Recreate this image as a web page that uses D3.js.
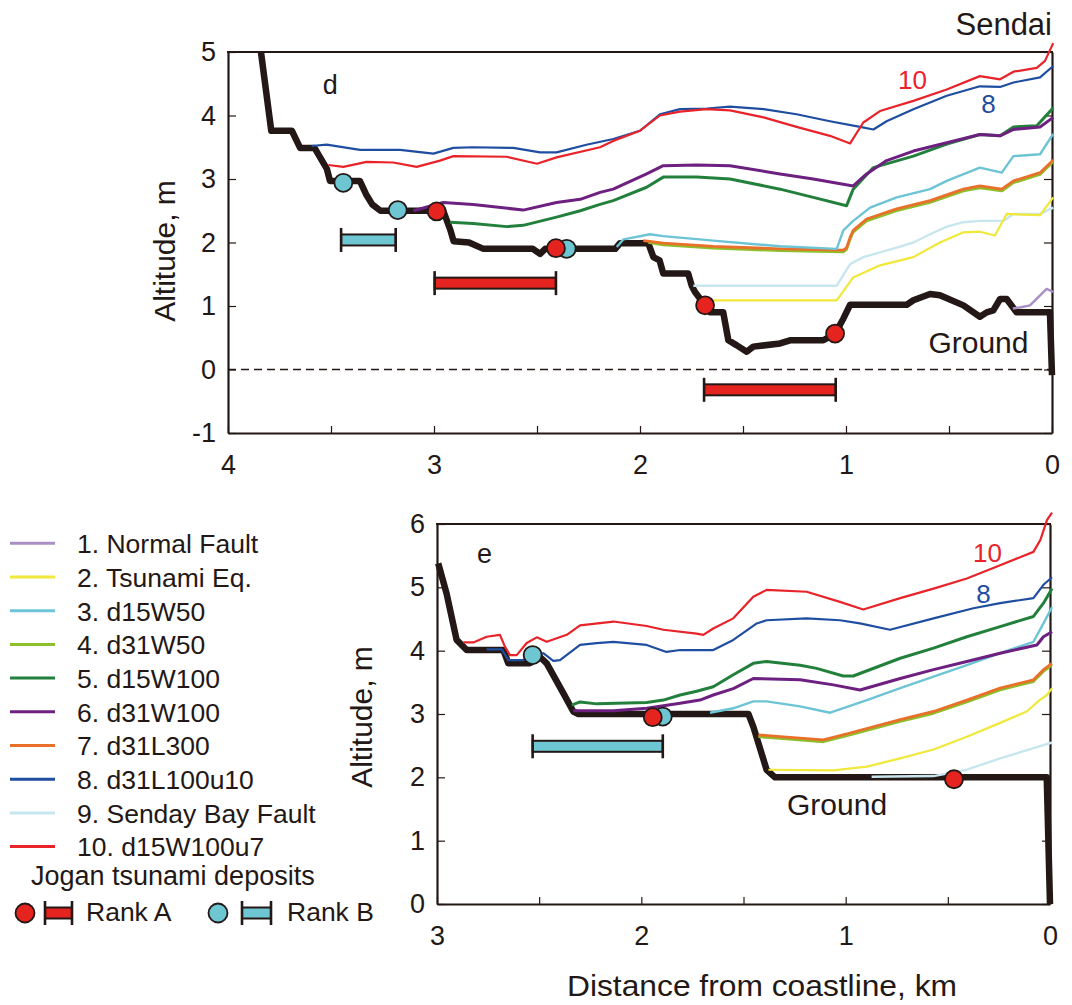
<!DOCTYPE html>
<html><head><meta charset="utf-8">
<script src="https://cdn.jsdelivr.net/npm/d3@7"></script>
<style>
body{margin:0;background:#fff;}
text{font-family:"Liberation Sans",Arial,Helvetica,sans-serif;}
</style></head><body>
<svg id="chart" width="1072" height="1005"></svg>
<script>
// ---------- legend / series meta ----------
const seriesNames = ["1. Normal Fault","2. Tsunami Eq.","3. d15W50","4. d31W50","5. d15W100","6. d31W100","7. d31L300","8. d31L100u10","9. Senday Bay Fault","10. d15W100u7"];
const seriesColors = ["#a98fc6","#f0e83a","#6cc4d4","#8cbf2a","#23803c","#6d2080","#e8702a","#1f4ea0","#c8e6ee","#e8232a"];
const seriesWidths = [2.4,2.2,2.4,2.6,3,3,2.8,2.2,2.4,2.2];

// ---------- panel d: ground & series (x = km from coast, y = altitude m) ----------
const dGround = [[3.84,5.0],[3.79,3.76],[3.69,3.76],[3.65,3.49],[3.58,3.49],[3.52,3.16],[3.505,2.97],[3.36,2.97],[3.33,2.76],[3.30,2.6],[3.26,2.5],[2.955,2.5],[2.92,2.19],[2.905,2.02],[2.83,2.0],[2.76,1.9],[2.52,1.9],[2.485,1.82],[2.46,1.9],[2.12,1.9],[2.097,1.99],[1.96,1.99],[1.935,1.77],[1.905,1.72],[1.887,1.51],[1.766,1.51],[1.749,1.32],[1.733,1.22],[1.684,1.01],[1.66,0.9],[1.596,0.9],[1.571,0.46],[1.53,0.38],[1.482,0.28],[1.45,0.36],[1.32,0.41],[1.272,0.46],[1.11,0.46],[1.053,0.565],[1.013,0.8],[0.98,1.02],[0.705,1.02],[0.673,1.09],[0.592,1.19],[0.544,1.17],[0.43,1.01],[0.35,0.83],[0.317,0.9],[0.285,0.93],[0.252,1.11],[0.22,1.11],[0.172,0.9],[0.01,0.9],[0.0,-0.09]];
const d1 = [[0.19,0.96],[0.15,0.98],[0.107,1.01],[0.026,1.27],[-0.006,1.22]];
const d2 = [[1.644,1.09],[1.045,1.09],[0.965,1.45],[0.835,1.64],[0.673,1.77],[0.544,2.0],[0.43,2.16],[0.35,2.17],[0.277,2.11],[0.22,2.45],[0.058,2.43],[-0.006,2.71]];
const d3s = [[2.113,1.93],[2.08,2.05],[1.951,2.13],[1.887,2.1],[1.644,2.03],[1.32,1.94],[1.045,1.9],[1.013,2.19],[0.965,2.34],[0.883,2.55],[0.754,2.71],[0.592,2.84],[0.511,2.97],[0.35,3.18],[0.244,3.1],[0.187,3.36],[0.058,3.39],[-0.006,3.71]];
const d4 = [[1.96,2.0],[1.887,1.96],[1.644,1.91],[1.32,1.87],[1.013,1.85],[0.997,1.89],[0.98,2.05],[0.965,2.16],[0.9,2.34],[0.754,2.5],[0.592,2.63],[0.43,2.81],[0.35,2.86],[0.244,2.81],[0.187,2.94],[0.058,3.07],[-0.006,3.27]];
const d5 = [[2.922,2.32],[2.81,2.3],[2.647,2.25],[2.567,2.27],[2.405,2.4],[2.29,2.5],[2.194,2.6],[2.13,2.66],[1.968,2.87],[1.887,3.03],[1.725,3.03],[1.563,3.0],[1.32,2.84],[1.159,2.71],[0.997,2.58],[0.965,2.84],[0.867,3.18],[0.673,3.36],[0.511,3.55],[0.35,3.7],[0.252,3.68],[0.187,3.82],[0.074,3.84],[-0.006,4.12]];
const d6 = [[3.1,2.5],[2.955,2.63],[2.81,2.6],[2.567,2.51],[2.405,2.63],[2.29,2.68],[2.194,2.79],[2.13,2.84],[1.968,3.08],[1.887,3.21],[1.725,3.22],[1.563,3.21],[1.32,3.08],[1.159,3.0],[0.965,2.89],[0.9,3.08],[0.803,3.29],[0.673,3.44],[0.511,3.57],[0.35,3.7],[0.252,3.68],[0.187,3.78],[0.058,3.82],[-0.006,3.97]];
const d7 = [[1.984,2.03],[1.887,1.99],[1.644,1.94],[1.32,1.9],[1.013,1.88],[0.997,1.92],[0.98,2.08],[0.965,2.19],[0.9,2.37],[0.754,2.53],[0.592,2.66],[0.43,2.84],[0.35,2.89],[0.244,2.84],[0.187,2.97],[0.058,3.1],[-0.006,3.3]];
const d8 = [[3.594,3.52],[3.521,3.54],[3.359,3.46],[3.165,3.46],[3.003,3.40],[2.906,3.49],[2.81,3.5],[2.615,3.49],[2.485,3.42],[2.405,3.42],[2.26,3.54],[2.13,3.63],[2.0,3.76],[1.903,4.02],[1.806,4.1],[1.676,4.11],[1.563,4.14],[1.4,4.1],[1.24,4.02],[1.078,3.91],[0.932,3.82],[0.867,3.78],[0.803,3.91],[0.673,4.1],[0.511,4.31],[0.35,4.46],[0.252,4.45],[0.187,4.52],[0.058,4.6],[-0.006,4.78]];
const d9 = [[1.741,1.32],[1.045,1.32],[0.98,1.66],[0.916,1.77],[0.754,1.92],[0.673,2.0],[0.592,2.13],[0.511,2.25],[0.43,2.32],[0.35,2.34],[0.236,2.34],[0.187,2.45],[0.058,2.45],[-0.006,2.55]];
const d10 = [[3.513,3.22],[3.44,3.19],[3.327,3.27],[3.198,3.26],[3.084,3.19],[2.971,3.29],[2.906,3.36],[2.647,3.35],[2.5,3.24],[2.405,3.34],[2.194,3.5],[2.13,3.6],[2.0,3.76],[1.903,4.0],[1.806,4.06],[1.676,4.1],[1.563,4.08],[1.4,3.97],[1.24,3.82],[1.078,3.68],[0.98,3.56],[0.916,3.89],[0.835,4.07],[0.673,4.23],[0.511,4.41],[0.35,4.62],[0.252,4.57],[0.187,4.69],[0.074,4.75],[0.034,4.86],[-0.006,5.14]];
const dRankA = [[2.987,2.49],[2.408,1.91],[1.684,1.01],[1.053,0.565]];
const dRankB = [[3.44,2.94],[3.176,2.51],[2.356,1.9]];
const dBarA = [[2.997,2.408,1.36],[1.689,1.05,-0.32]];   // [from, to, altitude]
const dBarB = [[3.451,3.186,2.04]];

// ---------- panel e ----------
const eGround = [[2.994,5.38],[2.953,4.9],[2.904,4.17],[2.855,4.01],[2.675,4.01],[2.651,3.8],[2.546,3.8],[2.496,3.9],[2.463,3.8],[2.382,3.33],[2.333,3.04],[2.308,3.0],[1.476,3.0],[1.452,2.8],[1.387,2.12],[1.346,2.0],[0.016,2.0],[0.0,0.0]];
const e2 = [[1.378,2.12],[1.06,2.11],[0.896,2.17],[0.733,2.3],[0.57,2.44],[0.407,2.64],[0.244,2.86],[0.114,3.04],[0.051,3.22],[0.015,3.3],[-0.01,3.41]];
const e3 = [[1.664,3.02],[1.55,3.09],[1.452,3.2],[1.387,3.2],[1.223,3.12],[1.076,3.02],[0.896,3.22],[0.733,3.41],[0.57,3.59],[0.407,3.77],[0.244,3.96],[0.081,4.14],[0.032,4.43],[-0.01,4.69]];
const e4 = [[1.427,2.64],[1.305,2.61],[1.109,2.56],[0.979,2.67],[0.733,2.88],[0.57,3.01],[0.407,3.19],[0.244,3.38],[0.081,3.51],[0.032,3.67],[-0.01,3.77]];
const e5 = [[2.341,3.14],[2.3,3.19],[2.218,3.16],[1.974,3.18],[1.892,3.22],[1.81,3.3],[1.729,3.36],[1.648,3.43],[1.55,3.62],[1.452,3.8],[1.387,3.83],[1.223,3.77],[1.142,3.72],[1.012,3.6],[0.963,3.6],[0.733,3.88],[0.57,4.04],[0.407,4.22],[0.244,4.38],[0.081,4.54],[0.032,4.75],[-0.01,4.98]];
const e6 = [[2.333,3.05],[2.137,3.05],[1.974,3.09],[1.81,3.17],[1.713,3.22],[1.648,3.3],[1.55,3.4],[1.452,3.56],[1.223,3.54],[1.06,3.46],[0.93,3.38],[0.733,3.56],[0.57,3.7],[0.407,3.83],[0.244,3.96],[0.064,4.09],[0.032,4.22],[-0.01,4.3]];
const e7 = [[1.427,2.67],[1.305,2.64],[1.109,2.59],[0.979,2.7],[0.733,2.91],[0.57,3.04],[0.407,3.22],[0.244,3.41],[0.081,3.54],[0.032,3.7],[-0.01,3.8]];
const e8 = [[2.757,4.02],[2.683,4.02],[2.651,3.85],[2.578,3.85],[2.53,3.9],[2.48,3.96],[2.431,3.84],[2.398,3.85],[2.3,4.09],[2.218,4.12],[2.137,4.14],[1.974,4.09],[1.877,3.98],[1.81,4.01],[1.648,4.01],[1.55,4.17],[1.435,4.43],[1.387,4.48],[1.191,4.51],[1.028,4.48],[0.93,4.43],[0.783,4.33],[0.57,4.51],[0.375,4.67],[0.244,4.75],[0.081,4.83],[0.032,5.04],[-0.01,5.16]];
const e9 = [[0.873,2.01],[0.57,2.02],[0.407,2.12],[0.244,2.3],[0.081,2.46],[-0.01,2.55]];
const e10 = [[2.871,4.13],[2.822,4.13],[2.757,4.22],[2.692,4.25],[2.667,4.06],[2.643,3.93],[2.61,3.93],[2.561,4.12],[2.512,4.21],[2.463,4.14],[2.365,4.25],[2.3,4.4],[2.137,4.46],[1.974,4.39],[1.892,4.33],[1.729,4.27],[1.697,4.25],[1.648,4.35],[1.55,4.51],[1.452,4.85],[1.387,4.96],[1.191,4.93],[1.028,4.77],[0.914,4.65],[0.733,4.83],[0.57,4.98],[0.407,5.14],[0.244,5.35],[0.081,5.56],[0.047,5.75],[0.015,6.06],[-0.01,6.18]];
const eRankA = [[1.944,2.95],[0.47,1.97]];
const eRankB = [[2.532,3.93],[1.895,2.96]];
const eBarA = [];
const eBarB = [[2.532,1.895,2.49]];

// tick values
const dYTicks = [-1,0,1,2,3,4,5];
const dXTicks = [4,3.5,3,2.5,2,1.5,1,0.5,0];
const eYTicks = [0,1,2,3,4,5,6];
const eXTicks = [3,2.5,2,1.5,1,0.5,0];

const INK = "#231815", RED = "#e5231f", CYAN = "#6ec6d3";
const svg = d3.select("#chart");

function panel(cfg){
  const x = d3.scaleLinear().domain(cfg.xDomain).range(cfg.xRange);
  const y = d3.scaleLinear().domain(cfg.yDomain).range(cfg.yRange);
  const g = svg.append("g");
  const [x0,x1] = cfg.xRange, [y0,y1] = cfg.yRange;

  const ax = d3.axisBottom(x).tickValues(cfg.xTicks).tickSize(-7).tickSizeOuter(0).tickPadding(22)
     .tickFormat(d => Number.isInteger(d) ? d3.format("d")(d) : "");
  const gx = g.append("g").attr("transform",`translate(0,${y0})`).call(ax);
  const ay = d3.axisLeft(y).tickValues(cfg.yTicks).tickSize(-8).tickSizeOuter(0).tickPadding(12).tickFormat(d3.format("d"));
  const gy = g.append("g").attr("transform",`translate(${x0},0)`).call(ay);
  const ar = d3.axisRight(y).tickValues(cfg.yTicks).tickSize(-8).tickSizeOuter(0).tickFormat("");
  const gr = g.append("g").attr("transform",`translate(${x1},0)`).call(ar);
  [gx,gy,gr].forEach(a=>{
    a.select(".domain").attr("stroke",INK).attr("stroke-width",2.2);
    a.selectAll(".tick line").attr("stroke",INK).attr("stroke-width",1.2);
    a.selectAll(".tick text").attr("font-size",27).style("fill",INK)
      .attr("font-family",'"Liberation Sans",Arial,sans-serif');
  });
  gy.selectAll(".tick text").text(d => d<0 ? "-"+Math.abs(d) : d);
  g.append("line").attr("x1",x0-1).attr("x2",x1+1).attr("y1",y1).attr("y2",y1).attr("stroke",INK).attr("stroke-width",2);

  if (cfg.zeroLine){
    g.append("line").attr("x1",x0).attr("x2",x1).attr("y1",y(0)).attr("y2",y(0))
      .attr("stroke",INK).attr("stroke-width",1.3).attr("stroke-dasharray","8,5");
  }

  const line = d3.line().x(d=>x(d[0])).y(d=>y(d[1]));
  g.append("path").datum(cfg.ground).attr("d",line).attr("fill","none")
    .attr("stroke",INK).attr("stroke-width",6.5).attr("stroke-linejoin","round").attr("stroke-linecap","butt");

  cfg.series.forEach(([i,data])=>{
    g.append("path").datum(data).attr("d",line).attr("fill","none")
      .attr("stroke",seriesColors[i]).attr("stroke-width",seriesWidths[i]).attr("stroke-linejoin","round");
  });

  function bars(list,color){
    list.forEach(([a,b,h])=>{
      const xa = x(a), xb = x(b), yy = y(h);
      g.append("rect").attr("x",Math.min(xa,xb)).attr("y",yy-5.5).attr("width",Math.abs(xb-xa)).attr("height",11)
        .attr("fill",color).attr("stroke",INK).attr("stroke-width",2);
      [xa,xb].forEach(xx=>g.append("line").attr("x1",xx).attr("x2",xx).attr("y1",yy-12).attr("y2",yy+12)
        .attr("stroke",INK).attr("stroke-width",2.6));
    });
  }
  bars(cfg.barB,CYAN); bars(cfg.barA,RED);

  function dots(list,color){
    g.selectAll(null).data(list).enter().append("circle")
      .attr("cx",d=>x(d[0])).attr("cy",d=>y(d[1])).attr("r",9)
      .attr("fill",color).attr("stroke",INK).attr("stroke-width",1.8);
  }
  dots(cfg.rankB,CYAN); dots(cfg.rankA,RED);

  cfg.labels.forEach(l=>{
    g.append("text").attr("x",x(l.x)).attr("y",y(l.y)).attr("text-anchor",l.anchor||"start")
      .attr("font-size",l.size).style("fill",l.color||INK).text(l.t);
  });
  return {x,y};
}

panel({
  xDomain:[4,0], xRange:[228,1052], yDomain:[-1,5], yRange:[433,52],
  xTicks:dXTicks, yTicks:dYTicks, zeroLine:true, ground:dGround,
  series:[[8,d9],[1,d2],[0,d1],[3,d4],[6,d7],[2,d3s],[4,d5],[5,d6],[7,d8],[9,d10]],
  rankA:dRankA, rankB:dRankB, barA:dBarA, barB:dBarB,
  labels:[
    {t:"d",x:3.54,y:4.34,size:27},
    {t:"Sendai",x:0,y:5.26,size:31,anchor:"end"},
    {t:"10",x:0.677,y:4.42,size:26,anchor:"middle",color:"#e8232a"},
    {t:"8",x:0.308,y:4.04,size:26,anchor:"middle",color:"#1f4ea0"},
    {t:"Ground",x:0.6,y:0.26,size:30}
  ]
});

panel({
  xDomain:[3,0], xRange:[437,1050], yDomain:[0,6], yRange:[904,524],
  xTicks:eXTicks, yTicks:eYTicks, zeroLine:false, ground:eGround,
  series:[[8,e9],[1,e2],[3,e4],[6,e7],[2,e3],[4,e5],[5,e6],[7,e8],[9,e10]],
  rankA:eRankA, rankB:eRankB, barA:eBarA, barB:eBarB,
  labels:[
    {t:"e",x:2.804,y:5.38,size:27},
    {t:"10",x:0.306,y:5.4,size:26,anchor:"middle",color:"#e8232a"},
    {t:"8",x:0.325,y:4.75,size:26,anchor:"middle",color:"#1f4ea0"},
    {t:"Ground",x:1.287,y:1.41,size:30}
  ]
});

// axis titles
svg.append("text").attr("transform","translate(175,251) rotate(-90)").attr("text-anchor","middle")
  .attr("font-size",30).style("fill",INK).text("Altitude, m");
svg.append("text").attr("transform","translate(372,717) rotate(-90)").attr("text-anchor","middle")
  .attr("font-size",30).style("fill",INK).text("Altitude, m");
svg.append("text").attr("x",762).attr("y",996).attr("text-anchor","middle").style("fill",INK)
  .attr("font-size",30).attr("textLength",390).attr("lengthAdjust","spacingAndGlyphs").text("Distance from coastline, km");

// legend
const leg = svg.append("g");
seriesNames.forEach((n,i)=>{
  const yy = 543.3 + i*33.7;
  leg.append("line").attr("x1",10).attr("x2",55).attr("y1",yy).attr("y2",yy)
    .attr("stroke",seriesColors[i]).attr("stroke-width",3);
  leg.append("text").attr("x",77).attr("y",yy+9.8).attr("font-size",26.5).style("fill",INK).text(n);
});
leg.append("text").attr("x",31).attr("y",885).attr("font-size",27).style("fill",INK).text("Jogan tsunami deposits");
function legMark(cx,color,bx1,bx2,label,tx){
  const yy = 913;
  leg.append("circle").attr("cx",cx).attr("cy",yy).attr("r",9.5).attr("fill",color).attr("stroke",INK).attr("stroke-width",1.8);
  leg.append("rect").attr("x",bx1).attr("y",yy-5.5).attr("width",bx2-bx1).attr("height",11).attr("fill",color).attr("stroke",INK).attr("stroke-width",2);
  [bx1,bx2].forEach(xx=>leg.append("line").attr("x1",xx).attr("x2",xx).attr("y1",yy-12).attr("y2",yy+12).attr("stroke",INK).attr("stroke-width",2.6));
  leg.append("text").attr("x",tx).attr("y",yy+7.5).attr("font-size",26.5).style("fill",INK).text(label);
}
legMark(25,RED,45,72,"Rank A",86);
legMark(218,CYAN,242,271,"Rank B",287);
</script>
</body></html>
